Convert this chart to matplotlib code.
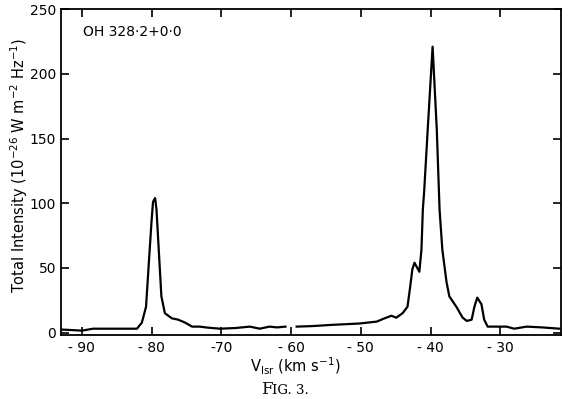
import numpy as np
import matplotlib
matplotlib.use("Agg")
import matplotlib.pyplot as plt

# OH 328.2+0.0 spectrum (two segments, gap near -60)
velocity_a = [-92.8, -91.0, -90.0, -88.4, -85.0, -82.1, -81.4, -80.8, -80.4, -80.0,
              -79.8, -79.5, -79.3, -79.0, -78.6, -78.1, -77.1, -76.2, -75.2, -74.2,
              -73.1, -72.1, -70.2, -68.0, -65.9, -64.5, -63.1, -62.0, -60.8]
intensity_a = [2.3, 1.8, 1.5, 3.0, 3.0, 3.0, 7.7, 20, 54, 87,
               101, 104, 95, 66, 28, 15, 11, 10, 7.7, 4.6,
               4.6, 3.9, 3.0, 3.5, 4.6, 3.0, 4.6, 4.0, 4.6]

velocity_b = [-59.2, -57.0, -54.0, -50.2, -47.7, -46.6, -45.6, -44.9, -44.0, -43.3,
              -42.9, -42.6, -42.3, -42.0, -41.6, -41.3, -41.1, -40.9, -40.4, -39.7,
              -39.1, -38.7, -38.3, -37.7, -37.3, -36.3, -35.4, -34.8, -34.1, -33.7,
              -33.3, -32.7, -32.3, -31.8, -30.1, -29.1, -28.0, -26.2, -24.0, -21.5]
intensity_b = [4.6, 5.0, 6.0, 7.0, 8.5, 11, 13, 11.5, 15, 20,
               36, 49, 54, 51, 47, 64, 95, 110, 157, 221,
               157, 95, 64, 39, 28, 20, 11.6, 9.0, 10, 20,
               27, 22, 10, 4.6, 4.6, 4.6, 3.0, 4.6, 4.0, 3.0]

x_ticks = [-90, -80, -70, -60, -50, -40, -30]
x_tick_labels = ["- 90", "- 80", "-70", "- 60", "- 50", "- 40", "- 30"]
y_ticks = [0, 50, 100, 150, 200, 250]

fig = plt.figure(figsize=(5.7, 3.99), dpi=100)
ax = fig.add_axes([0.107, 0.160, 0.877, 0.817])

ax.plot(velocity_a, intensity_a, color="black", linewidth=1.6)
ax.plot(velocity_b, intensity_b, color="black", linewidth=1.6)

ax.set_xlim(-93, -21.3)
ax.set_ylim(-2, 250)
ax.set_xticks(x_ticks)
ax.set_xticklabels(x_tick_labels)
ax.set_yticks(y_ticks)

ax.tick_params(direction="in", length=6, width=1.2, labelsize=10,
               top=True, right=True, labelright=False, labeltop=False)
ax.tick_params(axis="x", pad=4)
for sp in ax.spines.values():
    sp.set_linewidth(1.3)

ax.set_ylabel(r"Total Intensity (10$^{-26}$ W m$^{-2}$ Hz$^{-1}$)", fontsize=10.5)
ax.yaxis.set_label_coords(-0.062, 0.52)
ax.set_xlabel(r"V$_{\rm lsr}$ (km s$^{-1}$)", fontsize=10.5)
ax.xaxis.set_label_coords(0.468, -0.065)

ax.text(0.045, 0.93, "OH 328·2+0·0", transform=ax.transAxes, fontsize=10,
        ha="left", va="center")

# caption in small caps: "FIG. 3."
fig.text(0.478, 0.012, "F", family="DejaVu Serif", fontsize=12,
         ha="right", va="baseline")
fig.text(0.478, 0.012, "IG. 3.", family="DejaVu Serif", fontsize=9.5,
         ha="left", va="baseline")

fig.savefig("out.png", dpi=100)
